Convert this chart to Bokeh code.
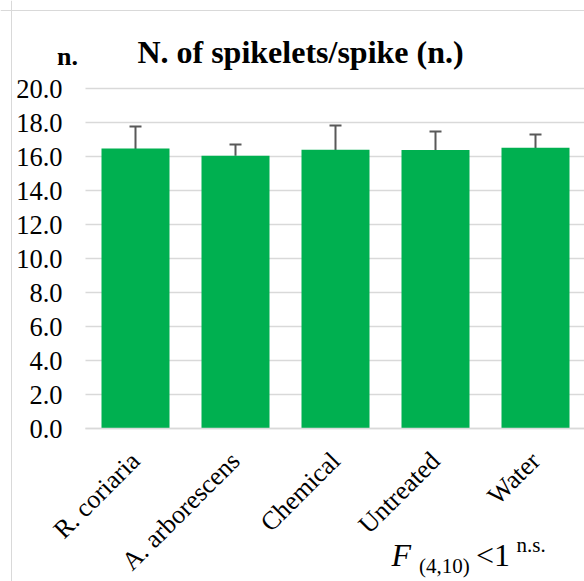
from bokeh.plotting import figure
from bokeh.models import (ColumnDataSource, Range1d, Whisker, TeeHead, Label, Span,
                          FixedTicker, CustomJSTickFormatter)
from bokeh.embed import file_html
from bokeh.resources import INLINE

categories = ["R. coriaria", "A. arborescens", "Chemical", "Untreated", "Water"]
means = [16.47, 16.05, 16.40, 16.38, 16.52]
errors = [1.30, 0.66, 1.42, 1.10, 0.78]
y_ticks = [0, 2, 4, 6, 8, 10, 12, 14, 16, 18, 20]

FONT = "Liberation Serif"
GREEN = "#00B050"
GRID = "#d9d9d9"
ERR = "#595959"

xpos = [i + 0.5 for i in range(len(categories))]

src = ColumnDataSource(dict(
    x=xpos,
    mean=means,
    upper=[m + e for m, e in zip(means, errors)],
    lower=[m - e for m, e in zip(means, errors)],
))

# frame covers the whole canvas; axes are drawn at fixed locations inside it
p = figure(
    x_range=Range1d(-0.85, 4.99),
    y_range=Range1d(-9.0, 25.18),
    width=584, height=581,
    output_backend="svg", toolbar_location=None,
    min_border_left=0, min_border_right=0, min_border_top=0, min_border_bottom=0,
    background_fill_color="white", border_fill_color="white",
)
p.outline_line_color = None
p.xgrid.grid_line_color = None
p.ygrid.grid_line_color = None

# chart-area border (left and top edges visible)
p.add_layout(Span(location=-0.74, dimension="height", line_color=GRID, line_width=1))
p.add_layout(Span(location=24.59, dimension="width", line_color=GRID, line_width=1))

# horizontal gridlines over the plot area
p.segment(x0=0, x1=5, y0=y_ticks, y1=y_ticks, line_color=GRID, line_width=1.5)

p.vbar(x="x", top="mean", width=0.68, source=src, color=GREEN, line_color=None)

head = dict(size=12, line_color=ERR, line_width=2)
p.add_layout(Whisker(base="x", upper="upper", lower="lower", source=src,
                     line_color=ERR, line_width=2,
                     upper_head=TeeHead(**head), lower_head=TeeHead(**head)))

# y axis
yax = p.yaxis[0]
yax.fixed_location = 0
yax.ticker = FixedTicker(ticks=y_ticks)
yax.formatter = CustomJSTickFormatter(code="return tick.toFixed(1);")
yax.axis_line_color = None
yax.major_tick_line_color = None
yax.minor_tick_line_color = None
yax.major_label_text_font = FONT
yax.major_label_text_font_size = "26.5px"
yax.major_label_text_color = "#000000"
yax.major_label_standoff = 17

# x axis
xax = p.xaxis[0]
xax.fixed_location = 0
xax.bounds = (0, 5)
xax.ticker = FixedTicker(ticks=xpos)
xax.major_label_overrides = {x: c for x, c in zip(xpos, categories)}
xax.axis_line_color = GRID
xax.axis_line_width = 1.5
xax.major_tick_line_color = None
xax.minor_tick_line_color = None
xax.major_label_orientation = 0.7853981633974483
xax.major_label_text_font = FONT
xax.major_label_text_font_size = "26px"
xax.major_label_text_color = "#000000"
xax.major_label_standoff = 22

# texts
def lab(x, y, text, size, style="normal", align="left"):
    p.add_layout(Label(x=x, y=y, text=text, text_font=FONT, text_font_style=style,
                       text_font_size=size, text_align=align,
                       text_baseline="alphabetic", text_color="#000000"))

lab(2.15, 22.17, "N. of spikelets/spike (n.)", "32px", "bold", "center")
lab(-0.285, 21.87, "n.", "26px", "bold")
lab(3.06, -7.42, "F", "32px", "italic")
lab(3.335, -8.11, "(4,10)", "21px")
lab(3.905, -7.42, "<1", "32px")
lab(4.31, -6.88, "n.s.", "21px")

open("out.html", "w").write(file_html(p, INLINE))
